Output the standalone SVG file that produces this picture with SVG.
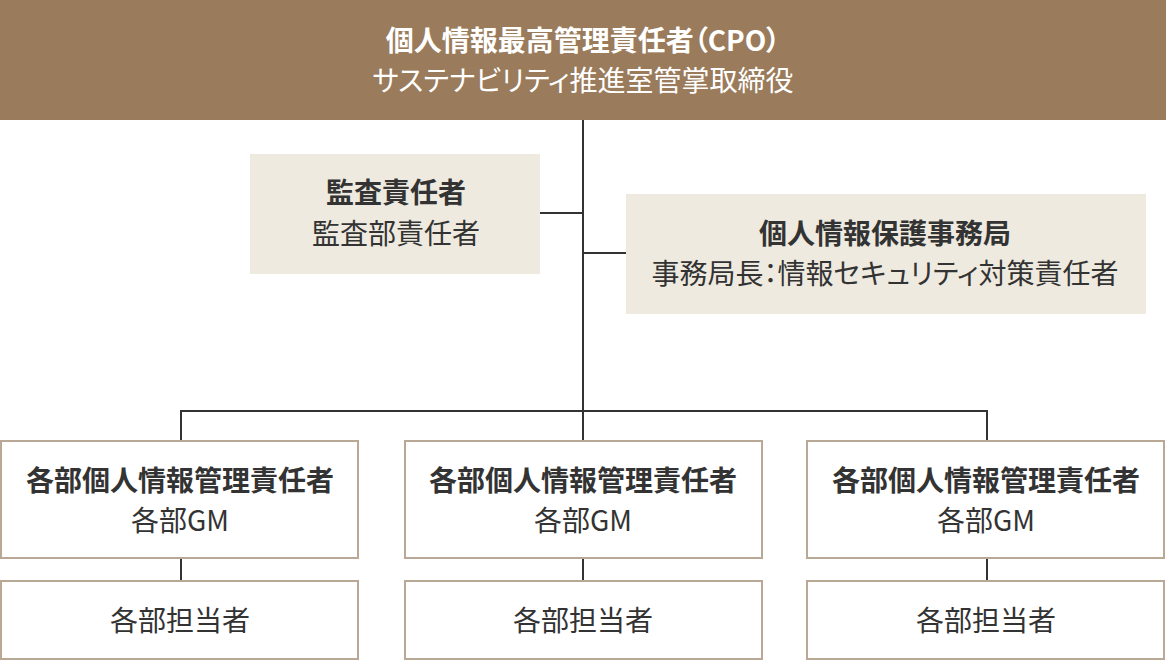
<svg xmlns="http://www.w3.org/2000/svg" width="1166" height="660" viewBox="0 0 1166 660">
<style>
text{font-family:"Noto Sans CJK JP","Noto Sans",sans-serif;text-anchor:middle;fill:#333333;font-size:28px;font-feature-settings:"palt"}
.b{font-weight:bold}
.w{fill:#ffffff}
.side{fill:#eeeadf}
.box{fill:#ffffff;stroke:#b8a895;stroke-width:2}
.ln{stroke:#333333;stroke-width:2;fill:none}
</style>
<g id="connectors">
<line class="ln" x1="583" y1="120" x2="583" y2="411"/>
<line class="ln" x1="540" y1="213" x2="583" y2="213"/>
<line class="ln" x1="583" y1="253" x2="626" y2="253"/>
<polyline class="ln" points="181,440 181,411 987,411 987,440"/>
<line class="ln" x1="583" y1="411" x2="583" y2="440"/>
<line class="ln" x1="181" y1="559" x2="181" y2="580"/>
<line class="ln" x1="583" y1="559" x2="583" y2="580"/>
<line class="ln" x1="987" y1="559" x2="987" y2="580"/>
</g>
<g id="cpo">
<rect x="0" y="0" width="1166" height="120" fill="#9a7b5b"/>
<text class="b w" x="583" y="51">個人情報最高管理責任者（CPO）</text>
<text class="w" x="583" y="91">サステナビリティ推進室管掌取締役</text>
</g>
<g id="audit">
<rect class="side" x="250" y="154" width="290" height="120"/>
<text class="b" x="396" y="203">監査責任者</text>
<text x="396" y="244">監査部責任者</text>
</g>
<g id="office">
<rect class="side" x="626" y="194" width="520" height="120"/>
<text class="b" x="885" y="244">個人情報保護事務局</text>
<text x="885" y="284">事務局長：情報セキュリティ対策責任者</text>
</g>
<g id="mgr1">
<rect class="box" x="1" y="441" width="357" height="117"/>
<text class="b" x="180" y="491">各部個人情報管理責任者</text>
<text x="180" y="531">各部GM</text>
</g>
<g id="mgr2">
<rect class="box" x="405" y="441" width="357" height="117"/>
<text class="b" x="583" y="491">各部個人情報管理責任者</text>
<text x="583" y="531">各部GM</text>
</g>
<g id="mgr3">
<rect class="box" x="807" y="441" width="357" height="117"/>
<text class="b" x="986" y="491">各部個人情報管理責任者</text>
<text x="986" y="531">各部GM</text>
</g>
<g id="staff1">
<rect class="box" x="1" y="581" width="357" height="78"/>
<text x="180" y="631">各部担当者</text>
</g>
<g id="staff2">
<rect class="box" x="405" y="581" width="357" height="78"/>
<text x="583" y="631">各部担当者</text>
</g>
<g id="staff3">
<rect class="box" x="807" y="581" width="357" height="78"/>
<text x="986" y="631">各部担当者</text>
</g>
</svg>
